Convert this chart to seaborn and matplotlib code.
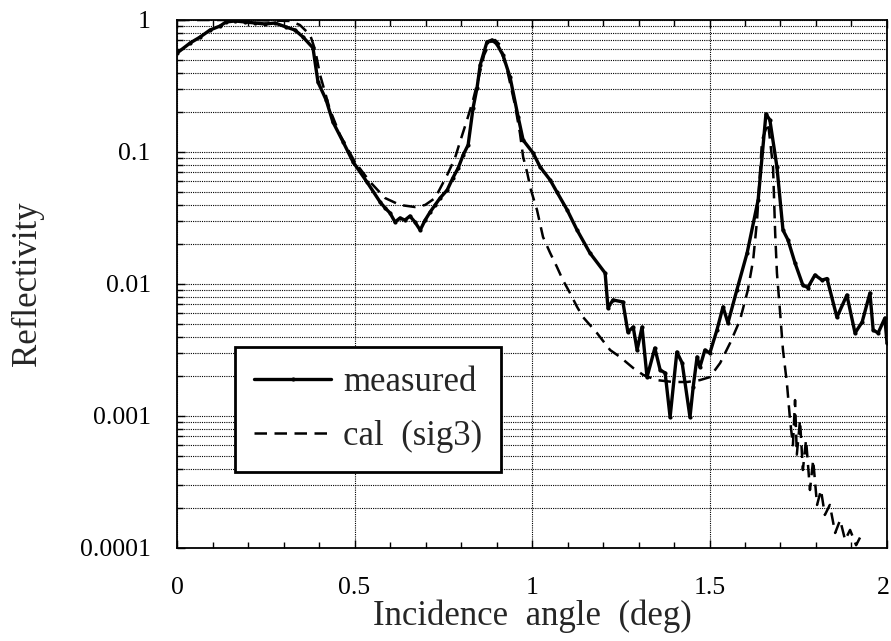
import numpy as np
import pandas as pd
import matplotlib
matplotlib.use("Agg")
import matplotlib.pyplot as plt
import matplotlib.transforms as mtransforms
import seaborn as sns
from matplotlib.ticker import LogLocator, FixedLocator, MultipleLocator, FixedFormatter

# ---- data ----
meas_angle = [0.000, 0.037, 0.065, 0.093, 0.121, 0.138, 0.163, 0.192, 0.220, 0.248,
              0.276, 0.307, 0.332, 0.355, 0.383, 0.397, 0.420, 0.439, 0.468, 0.496,
              0.535, 0.572, 0.586, 0.600, 0.614, 0.628, 0.642, 0.656, 0.670, 0.685,
              0.699, 0.713, 0.727, 0.741, 0.761, 0.777, 0.792, 0.806, 0.820, 0.834,
              0.845, 0.854, 0.873, 0.887, 0.901, 0.918, 0.938, 0.961, 0.975, 1.003,
              1.023, 1.051, 1.070, 1.099, 1.127, 1.163, 1.206, 1.214, 1.228, 1.256,
              1.270, 1.285, 1.296, 1.310, 1.324, 1.346, 1.361, 1.375, 1.389, 1.408,
              1.423, 1.445, 1.454, 1.465, 1.473, 1.487, 1.501, 1.521, 1.538, 1.552,
              1.577, 1.606, 1.637, 1.659, 1.670, 1.690, 1.707, 1.721, 1.741, 1.763,
              1.777, 1.797, 1.817, 1.831, 1.859, 1.887, 1.910, 1.930, 1.952, 1.961,
              1.975, 1.994, 2.000]
meas_refl = [0.562, 0.67, 0.743, 0.84, 0.90, 0.966, 0.983, 0.966, 0.949, 0.933,
             0.949, 0.885, 0.84, 0.743, 0.614, 0.339, 0.248, 0.169, 0.119, 0.084,
             0.0593, 0.0418, 0.0377, 0.0345, 0.0295, 0.0316, 0.0305, 0.0327, 0.0295, 0.0256,
             0.0305, 0.0351, 0.0397, 0.0448, 0.0515, 0.0636, 0.0756, 0.0949, 0.113, 0.216,
             0.305, 0.456, 0.681, 0.705, 0.658, 0.543, 0.370, 0.184, 0.123, 0.0983,
             0.0769, 0.0614, 0.0498, 0.0364, 0.0256, 0.0172, 0.0121, 0.00658, 0.00757, 0.00731,
             0.00433, 0.00472, 0.00316, 0.00472, 0.00197, 0.00327, 0.00223, 0.00212, 0.00098, 0.00305,
             0.00252, 0.00098, 0.00166, 0.0028, 0.00235, 0.00316, 0.0030, 0.00449, 0.0067, 0.00507,
             0.0090, 0.0172, 0.0433, 0.194, 0.175, 0.0769, 0.0256, 0.0216, 0.0144, 0.0098,
             0.0094, 0.0117, 0.0107, 0.0110, 0.0056, 0.00825, 0.00425, 0.00515, 0.00855, 0.00449,
             0.00425, 0.00552, 0.00357]

cal_angle = [0.000, 0.206, 0.318, 0.346, 0.375, 0.389, 0.403, 0.431, 0.459, 0.501,
             0.544, 0.586, 0.628, 0.670, 0.699, 0.727, 0.761, 0.783, 0.797, 0.817,
             0.834, 0.848, 0.865, 0.882, 0.896, 0.910, 0.930, 0.952, 0.966, 0.975,
             0.986, 0.997, 1.014, 1.031, 1.051, 1.070, 1.087, 1.107, 1.127, 1.144,
             1.183, 1.220, 1.248, 1.285, 1.313, 1.352, 1.397, 1.437, 1.473, 1.501,
             1.530, 1.558, 1.586, 1.608, 1.623, 1.634, 1.648, 1.665, 1.679, 1.685,
             1.690, 1.699, 1.707, 1.718, 1.727, 1.735, 1.741, 1.746, 1.755, 1.763,
             1.772, 1.783, 1.792, 1.803, 1.814, 1.825, 1.839, 1.854, 1.868, 1.882,
             1.896, 1.913, 1.924]
cal_refl = [1.0, 1.0, 0.983, 0.917, 0.77, 0.593, 0.383, 0.208, 0.135, 0.084,
            0.0593, 0.0448, 0.0397, 0.0383, 0.0397, 0.0448, 0.067, 0.090, 0.119, 0.175,
            0.248, 0.351, 0.543, 0.681, 0.705, 0.647, 0.418, 0.227, 0.139, 0.0917,
            0.0705, 0.0515, 0.0364, 0.0227, 0.0172, 0.0135, 0.0107, 0.00855, 0.0067, 0.0056,
            0.00425, 0.00316, 0.0028, 0.00231, 0.00205, 0.00187, 0.00181, 0.00181, 0.00187, 0.00197,
            0.00252, 0.00357, 0.00533, 0.0090, 0.0152, 0.0305, 0.123, 0.166, 0.0769, 0.0243,
            0.0121, 0.00603, 0.00316, 0.00178, 0.00093, 0.0006, 0.00132, 0.00051, 0.00093, 0.00039,
            0.00066, 0.000275, 0.000464, 0.000212, 0.000275, 0.000178, 0.000212, 0.00013, 0.000163, 0.000115,
            0.000137, 0.000105, 0.00012]

x_ticks = [0, 0.5, 1, 1.5, 2]
x_tick_labels = ["0", "0.5", "1", "1.5", "2"]
y_ticks = [1e-4, 1e-3, 1e-2, 1e-1, 1]
y_tick_labels = ["0.0001", "0.001", "0.01", "0.1", "1"]
series_names = ["measured", "cal  (sig3)"]

meas_df = pd.DataFrame({"angle": meas_angle, "refl": meas_refl})
cal_df = pd.DataFrame({"angle": cal_angle, "refl": cal_refl})

sns.set_theme(style="white")
plt.rcParams["font.family"] = ["Liberation Serif", "DejaVu Serif"]
plt.rcParams["axes.edgecolor"] = "black"

fig = plt.figure(figsize=(8.91, 6.41), dpi=100)
ax = fig.add_axes([0.1987, 0.1451, 0.7968, 0.8237])

sns.lineplot(data=meas_df, x="angle", y="refl", ax=ax, color="black", lw=2.4,
             marker="o", markersize=3, markeredgewidth=0, sort=False,
             estimator=None, label=series_names[0])
sns.lineplot(data=cal_df, x="angle", y="refl", ax=ax, color="black", lw=1.8,
             sort=False, estimator=None, label=series_names[1])
ax.lines[1].set_dashes([5, 3])

ax.set_yscale("log")
ax.set_xlim(0, 2)
ax.set_ylim(1e-4, 1)

ax.xaxis.set_major_locator(FixedLocator(x_ticks))
ax.xaxis.set_major_formatter(FixedFormatter(x_tick_labels))
ax.xaxis.set_minor_locator(MultipleLocator(0.1))
ax.yaxis.set_major_locator(FixedLocator(y_ticks))
ax.yaxis.set_major_formatter(FixedFormatter(y_tick_labels))
ax.yaxis.set_minor_locator(LogLocator(base=10, subs=np.arange(2, 10), numticks=20))
ax.yaxis.set_minor_formatter(plt.NullFormatter())

ax.grid(True, which="major", axis="x", color="black", linestyle=(0, (1, 1)), lw=0.8)
ax.grid(True, which="both", axis="y", color="black", linestyle=(0, (1, 1)), lw=0.8)

ax.tick_params(axis="both", which="both", direction="in", top=True, right=False,
               left=True, bottom=True, colors="black")
ax.tick_params(axis="both", which="major", length=6, width=1, labelsize=18.5)
ax.tick_params(axis="both", which="minor", length=4, width=1)
ax.tick_params(axis="x", which="major", pad=21)
ax.tick_params(axis="y", which="major", pad=19)

for s in ax.spines.values():
    s.set_color("black")
    s.set_linewidth(1.3)

ax.set_xlabel("Incidence  angle  (deg)", fontsize=25, labelpad=0)
ax.set_ylabel("Reflectivity", fontsize=25, labelpad=26)

# keep the last x tick label inside the canvas, as in the reference
fig.canvas.draw()
last = ax.get_xticklabels()[-1]
last.set_transform(last.get_transform() +
                   mtransforms.ScaledTranslation(-4 / 100, 0, fig.dpi_scale_trans))

leg = ax.legend(loc="upper left", bbox_to_anchor=(0.082, 0.381), fontsize=25,
                frameon=True, fancybox=False, framealpha=1, edgecolor="black",
                handlelength=2.2, handletextpad=0.35, borderpad=0.55, labelspacing=0.6,
                borderaxespad=0)
leg.get_frame().set_linewidth(2)

fig.savefig("out.png", dpi=100)
